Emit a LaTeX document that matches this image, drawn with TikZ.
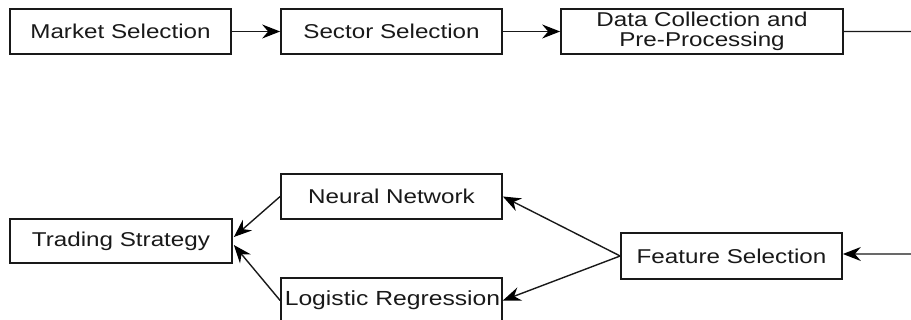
\documentclass[tikz,border=0pt]{standalone}
\usepackage{fontspec}
\setmainfont{Liberation Sans}[FakeStretch=1.21]
\usetikzlibrary{arrows.meta}

\tikzset{
  stagebox/.style={draw=black!90, line width=1.7pt, rectangle, inner sep=0pt,
    minimum height=45pt, minimum width=221pt,
    font=\fontsize{20}{19.5}\selectfont, text=black!90, align=center},
  flow/.style={draw=black!90, line width=1.4pt,
    -{Stealth[length=18pt,width=14pt,inset=6pt,black]}},
  labeltext/.style={inner sep=0pt, font=\fontsize{20}{19.5}\selectfont, text=black!90}
}

\begin{document}
\begin{tikzpicture}[x=1pt,y=-1pt]
  \useasboundingbox (0,0) rectangle (911,320);
  \clip (0,0) rectangle (911,320);

  % top row: data preparation stages
  \node[stagebox] (market) at (120.5,31.5) {Market Selection};
  \node[stagebox] (sector) at (391.5,31.5) {Sector Selection};
  \node[stagebox, minimum width=282pt] (data) at (702,31.5) {Data Collection and\\Pre-Processing};

  % bottom row: modelling and strategy
  \node[stagebox, minimum height=46pt] (feature) at (731.5,256) {Feature Selection};
  \node[stagebox] (nn) at (391.5,196.5) {Neural Network};
  \node[stagebox] (lr) at (391.5,300.5) {};
  \begin{scope}
    \clip ([xshift=-0.85pt,yshift=-0.85pt]lr.north east) rectangle ([xshift=0.85pt,yshift=0.85pt]lr.south west);
    \node[labeltext, font=\fontsize{20.4}{19.5}\selectfont] at ([xshift=1pt]lr.center) {Logistic Regression};
  \end{scope}
  \node[stagebox, minimum width=222pt, minimum height=44pt] (trading) at (121,241) {Trading Strategy};

  % connectors
  \draw[flow] (market) -- (sector);
  \draw[flow] (sector) -- (data);
  \draw[flow, rounded corners=7pt] (data.east) -- (918,31.5) -- (918,254) -- ([yshift=2pt]feature.east);
  \draw[flow] (feature.west) -- (nn.east);
  \draw[flow] (feature.west) -- (lr.east);
  \draw[flow] (nn.west) -- ([xshift=1pt,yshift=4pt]trading.east);
  \draw[flow] (lr.west) -- ([xshift=1pt,yshift=-4pt]trading.east);
\end{tikzpicture}
\end{document}
